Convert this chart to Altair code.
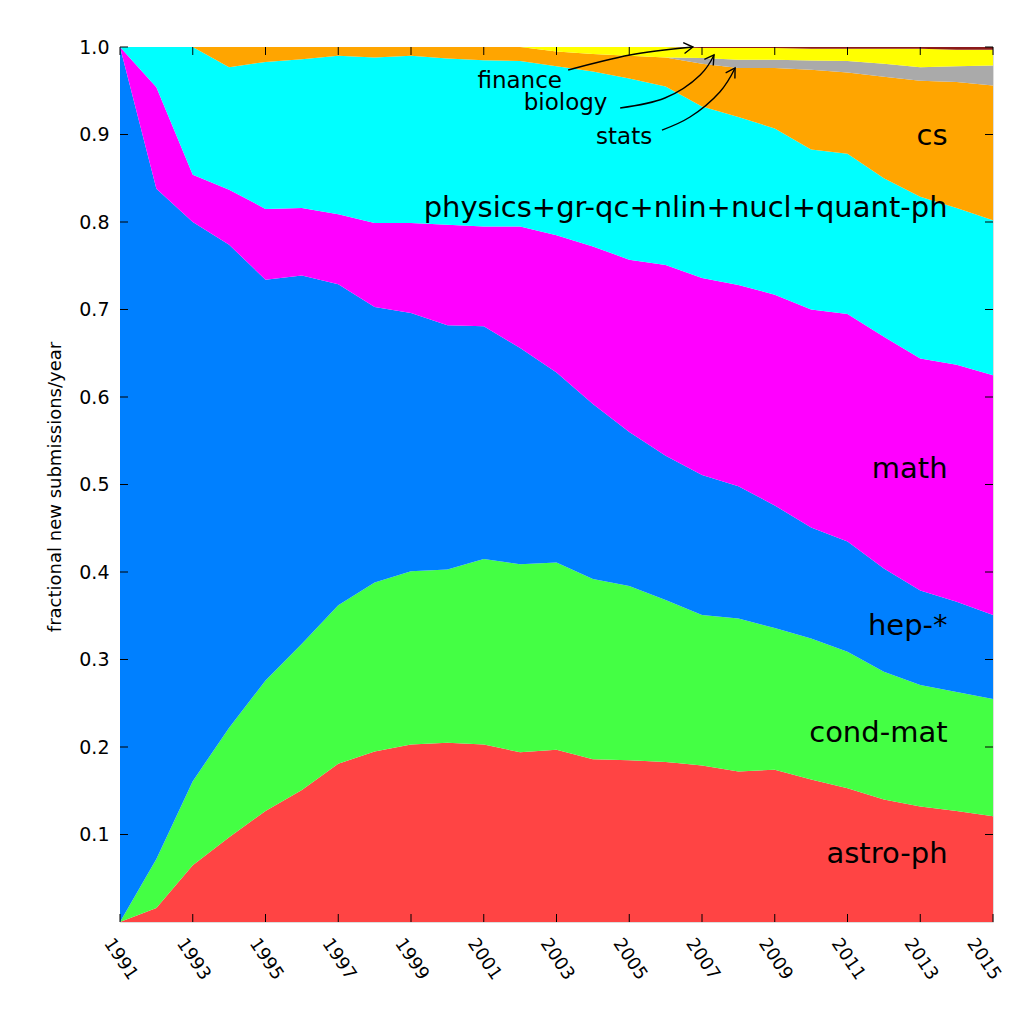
import altair as alt
import pandas as pd

# ---------------- data ----------------
years = list(range(1991, 2016))

astro_ph = [0.0, .016, .065, .097, .127, .151, .181, .195, .203, .205, .203, .194, .197,
            .186, .185, .183, .179, .172, .174, .163, .153, .140, .132, .127, .121]
cond_mat = [0.0, .056, .096, .125, .149, .167, .181, .193, .198, .198, .212, .215, .214,
            .206, .199, .185, .172, .175, .162, .161, .156, .146, .139, .136, .134]
hep = [1.0, .766, .639, .552, .458, .421, .367, .315, .295, .279, .266, .247, .217,
       .200, .176, .165, .160, .151, .140, .127, .126, .118, .108, .103, .096]
math_ = [0.0, .116, .054, .063, .081, .077, .080, .096, .103, .115, .114, .139, .157,
         .180, .197, .218, .225, .230, .241, .249, .260, .265, .265, .271, .274]
physics = [0.0, .046, .146, .140, .168, .170, .181, .189, .191, .190, .190, .189, .193,
           .200, .207, .204, .196, .192, .190, .183, .183, .181, .185, .179, .177]
cs = [0.0, 0.0, 0.0, .023, .017, .014, .010, .012, .010, .013, .015, .016, .017,
      .020, .026, .033, .049, .056, .069, .091, .093, .116, .1325, .144, .154]
stats = [0.0] * 16 + [.0065, .0095, .0095, .0105, .013, .015, .0155, .018, .023]
biology = [0.0] * 12 + [.005, .008, .010, .012, .0115, .0135, .0135, .0135, .014,
                        .017, .021, .019, .018]
finance = [0.0] * 16 + [.001, .001, .001, .002, .002, .002, .002, .003, .003]

series_names = ["astro-ph", "cond-mat", "hep-*", "math",
                "physics+gr-qc+nlin+nucl+quant-ph", "cs", "stats", "biology", "finance"]
series_values = [astro_ph, cond_mat, hep, math_, physics, cs, stats, biology, finance]
series_colors = ["#ff4444", "#44ff44", "#0080ff", "#ff00ff", "#00ffff",
                 "#ffa500", "#aaaaaa", "#ffff00", "#8b1a1a"]

x_tick_values = list(range(1991, 2016, 2))
y_tick_values = [0.1, 0.2, 0.3, 0.4, 0.5, 0.6, 0.7, 0.8, 0.9, 1.0]

# in-plot labels (big)
big_labels = ["cs", "physics+gr-qc+nlin+nucl+quant-ph", "math", "hep-*", "cond-mat", "astro-ph"]
big_label_year = [2013.75, 2013.75, 2013.75, 2013.75, 2013.75, 2013.75]
big_label_value = [0.888, 0.806, 0.507, 0.328, 0.206, 0.068]

# in-plot labels (small, with arrows)
small_labels = ["finance", "biology", "stats"]
small_label_year = [2003.15, 2004.4, 2005.63]
small_label_value = [0.953, 0.928, 0.889]

arrow_name = ["finance"] * 3 + ["biology"] * 4 + ["stats"] * 4
arrow_step = [0, 1, 2, 0, 1, 2, 3, 0, 1, 2, 3]
arrow_year = [2003.32, 2005.02, 2006.75,
              2004.75, 2005.98, 2006.95, 2007.33,
              2005.90, 2006.67, 2007.49, 2007.91]
arrow_value = [0.9737, 0.9909, 1.0,
               0.9303, 0.9417, 0.968, 0.9909,
               0.9051, 0.920, 0.9486, 0.976]
head_year = [2006.75, 2007.33, 2007.91]
head_value = [1.0, 0.9909, 0.976]
head_angle = [353, 305, 302]

# ---------------- tables ----------------
rows = []
for k, (name, vals) in enumerate(zip(series_names, series_values)):
    for yr, v in zip(years, vals):
        rows.append({"year": yr, "field": name, "frac": v, "k": k})
df = pd.DataFrame(rows)

W, H = 873, 875
FONT = "DejaVu Sans"

xs = alt.Scale(domain=[1991, 2015], nice=False, zero=False)
ys = alt.Scale(domain=[0, 1], nice=False, zero=True)

x_axis = alt.Axis(values=x_tick_values, format="d", labelAngle=56,
                  labelAlign="center", labelBaseline="middle",
                  labelPadding=37, labelFlush=False, labelOverlap=False,
                  labelOffset=alt.condition("datum.value == 2015", alt.value(-10), alt.value(0)),
                  ticks=False, domain=False, grid=False, title=None,
                  labelFontSize=18, labelColor="black", labelFont=FONT)
y_axis = alt.Axis(values=y_tick_values, format=".1f", ticks=False,
                  domain=False, grid=False, labelPadding=11,
                  labelFontSize=19, labelColor="black", labelFont=FONT,
                  labelFlush=False, labelOverlap=False,
                  title="fractional new submissions/year",
                  titleAngle=270, titleX=-65, titleY=H / 2 + 2,
                  titleAlign="center", titleBaseline="middle",
                  titleFontWeight="normal", titleFontSize=18,
                  titleColor="black", titleFont=FONT)


def X():
    return alt.X("year:Q", scale=xs, axis=x_axis)


def Y(stack=None):
    if stack:
        return alt.Y("frac:Q", stack=stack, scale=ys, axis=y_axis)
    return alt.Y("frac:Q", scale=ys, axis=y_axis)


areas = alt.Chart(df).mark_area(interpolate="linear", clip=True, strokeWidth=0).encode(
    x=X(),
    y=Y("zero"),
    color=alt.Color("field:N", scale=alt.Scale(domain=series_names, range=series_colors),
                    legend=None),
    order=alt.Order("k:Q", sort="ascending"),
)

xt = pd.DataFrame({"year": x_tick_values})
yt = pd.DataFrame({"frac": y_tick_values})

bottom_ticks = alt.Chart(xt).mark_rule(color="black", strokeWidth=1).encode(
    x=X(), y=alt.value(H), y2=alt.value(H - 8))
top_ticks = alt.Chart(xt).mark_rule(color="black", strokeWidth=1).encode(
    x=X(), y=alt.value(0), y2=alt.value(8))
left_ticks = alt.Chart(yt).mark_rule(color="black", strokeWidth=1).encode(
    y=Y(), x=alt.value(0), x2=alt.value(8))
right_ticks = alt.Chart(yt).mark_rule(color="black", strokeWidth=1).encode(
    y=Y(), x=alt.value(W), x2=alt.value(W - 8))

big_df = pd.DataFrame({"t": big_labels, "year": big_label_year, "frac": big_label_value})
big_text = alt.Chart(big_df).mark_text(
    align="right", baseline="alphabetic", fontSize=29, font=FONT, color="black"
).encode(x=X(), y=Y(), text="t:N")

small_df = pd.DataFrame({"t": small_labels, "year": small_label_year, "frac": small_label_value})
small_text = alt.Chart(small_df).mark_text(
    align="right", baseline="alphabetic", fontSize=23, font=FONT, color="black"
).encode(x=X(), y=Y(), text="t:N")

arrow_df = pd.DataFrame({"name": arrow_name, "step": arrow_step,
                         "year": arrow_year, "frac": arrow_value})
arrow_lines = alt.Chart(arrow_df).mark_line(
    interpolate="natural", color="black", strokeWidth=1.4
).encode(x=X(), y=Y(), detail="name:N", order=alt.Order("step:Q"))

head_df = pd.DataFrame({"year": head_year, "frac": head_value, "ang": head_angle})
arrow_heads = alt.Chart(head_df).mark_point(
    shape="M -1 -0.6 L 0 0 L -1 0.6", filled=False, size=330,
    stroke="black", strokeWidth=1.4, opacity=1
).encode(x=X(), y=Y(), angle=alt.Angle("ang:Q", scale=None))

chart = alt.layer(
    areas, bottom_ticks, top_ticks, left_ticks, right_ticks,
    big_text, small_text, arrow_lines, arrow_heads
).properties(
    width=W, height=H,
    autosize=alt.AutoSizeParams(type="none"),
    padding={"left": 112, "top": 39, "right": 14, "bottom": 80},
    background="white",
).configure_view(
    stroke="black", strokeWidth=1.5
).configure(font=FONT)

chart.save("out.html", embed_options={"renderer": "svg", "actions": False})
